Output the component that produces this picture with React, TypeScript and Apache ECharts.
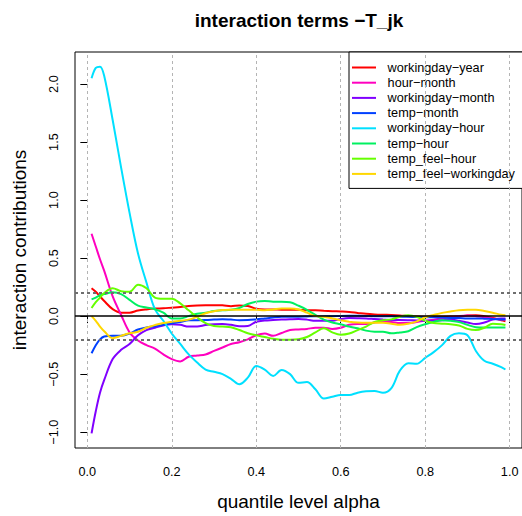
import React, { useEffect, useRef } from "react";
import * as echarts from "echarts";

const FONT = "'Liberation Sans', Arial, Helvetica, sans-serif";

const alpha = [
  0.01, 0.02, 0.03, 0.04, 0.06, 0.08, 0.1, 0.12, 0.14, 0.16, 0.18, 0.2, 0.22, 0.24, 0.26, 0.28, 0.3,
  0.32, 0.34, 0.36, 0.38, 0.4, 0.42, 0.44, 0.46, 0.48, 0.5, 0.52, 0.54, 0.56, 0.58, 0.6, 0.62, 0.64,
  0.66, 0.68, 0.7, 0.72, 0.74, 0.76, 0.78, 0.8, 0.82, 0.84, 0.86, 0.88, 0.9, 0.92, 0.94, 0.96, 0.98, 0.99,
];

const workingdayYear = [
  0.24, 0.21, 0.17, 0.13, 0.06, 0.03, 0.03, 0.048, 0.058, 0.065, 0.068, 0.073, 0.078, 0.087, 0.092, 0.094, 0.094,
  0.093, 0.086, 0.092, 0.088, 0.063, 0.058, 0.058, 0.056, 0.056, 0.054, 0.051, 0.05, 0.046, 0.043, 0.04, 0.036, 0.028,
  0.02, 0.015, 0.012, 0.01, 0.006, 0.0, -0.004, -0.006, -0.006, -0.005, -0.004, -0.003, 0.005, 0.008, 0.0, -0.015, -0.035, -0.045,
];

const hourMonth = [
  0.71, 0.6, 0.49, 0.39, 0.17, 0.01, -0.14, -0.21, -0.25, -0.28, -0.33, -0.37, -0.39, -0.35, -0.34, -0.33, -0.3,
  -0.27, -0.24, -0.225, -0.2, -0.165, -0.15, -0.17, -0.145, -0.12, -0.115, -0.11, -0.1, -0.1, -0.11, -0.1, -0.075, -0.068,
  -0.068, -0.055, -0.048, -0.05, -0.06, -0.06, -0.05, -0.04, -0.03, -0.02, -0.01, 0.0, 0.005, 0.0, -0.01, -0.02, -0.03, -0.03,
];

const workingdayMonth = [
  -1.01, -0.82, -0.66, -0.55, -0.37, -0.29, -0.24, -0.165, -0.12, -0.1, -0.08, -0.07, -0.075, -0.09, -0.09, -0.077, -0.07,
  -0.068, -0.075, -0.088, -0.085, -0.048, -0.038, -0.034, -0.03, -0.027, -0.025, -0.03, -0.04, -0.04, -0.04, -0.025, -0.017, -0.018,
  -0.02, -0.025, -0.03, -0.034, -0.034, -0.035, -0.037, -0.04, -0.04, -0.035, -0.03, -0.04, -0.055, -0.068, -0.055, -0.03, -0.02, -0.02,
];

const tempMonth = [
  -0.32, -0.25, -0.2, -0.175, -0.168, -0.168, -0.15, -0.115, -0.098, -0.088, -0.075, -0.062, -0.05, -0.035, -0.035, -0.034, -0.03,
  -0.026, -0.03, -0.035, -0.034, -0.028, -0.02, -0.012, -0.006, -0.005, -0.005, -0.003, 0.0, 0.0, 0.0, 0.002, 0.003, 0.003,
  0.002, 0.0, 0.0, -0.002, -0.005, -0.006, -0.008, -0.01, -0.01, -0.012, -0.015, -0.017, -0.02, -0.02, -0.022, -0.025, -0.028, -0.03,
];

const workingdayHour = [
  2.05, 2.14, 2.15, 2.07, 1.69, 1.28, 0.89, 0.54, 0.29, 0.06, -0.04, -0.15, -0.24, -0.33, -0.4, -0.46, -0.48,
  -0.5, -0.54, -0.587, -0.53, -0.43, -0.46, -0.515, -0.465, -0.5, -0.575, -0.567, -0.63, -0.71, -0.695, -0.68, -0.68, -0.66,
  -0.648, -0.645, -0.66, -0.62, -0.47, -0.405, -0.41, -0.36, -0.31, -0.25, -0.17, -0.148, -0.165, -0.3, -0.385, -0.41, -0.44, -0.46,
];

const tempHour = [
  0.145, 0.16, 0.18, 0.19, 0.205, 0.19, 0.14, 0.09, 0.075, 0.06, 0.03, -0.02, -0.02, 0.0, 0.02, 0.03, 0.045,
  0.05, 0.055, 0.07, 0.105, 0.125, 0.13, 0.125, 0.125, 0.12, 0.09, 0.055, 0.01, -0.03, -0.055, -0.07, -0.09, -0.105,
  -0.125, -0.134, -0.134, -0.148, -0.14, -0.13, -0.095, -0.07, -0.05, -0.035, -0.04, -0.05, -0.075, -0.095, -0.097, -0.097, -0.097, -0.097,
];

const tempFeelHour = [
  0.07, 0.12, 0.16, 0.2, 0.24, 0.215, 0.21, 0.27, 0.24, 0.16, 0.15, 0.15, 0.11, 0.05, -0.01, -0.06, -0.085,
  -0.09, -0.095, -0.12, -0.148, -0.165, -0.18, -0.195, -0.204, -0.204, -0.2, -0.18, -0.14, -0.105, -0.14, -0.16, -0.15, -0.12,
  -0.09, -0.05, -0.035, -0.028, -0.005, 0.008, -0.006, -0.04, -0.06, -0.065, -0.07, -0.08, -0.11, -0.12, -0.1, -0.065, -0.07, -0.077,
];

const tempFeelWorkingday = [
  0.0, -0.04, -0.09, -0.13, -0.19, -0.17, -0.148, -0.135, -0.1, -0.077, -0.06, -0.048, -0.04, -0.03, -0.005, 0.025, 0.042,
  0.052, 0.055, 0.056, 0.056, 0.054, 0.051, 0.058, 0.065, 0.065, 0.058, 0.03, 0.0, -0.005, -0.02, -0.035, -0.048, -0.055,
  -0.057, -0.057, -0.058, -0.065, -0.075, -0.065, -0.045, -0.01, 0.01, 0.028, 0.04, 0.05, 0.055, 0.056, 0.045, 0.03, 0.012, 0.008,
];

const seriesNames = [
  "workingday\u2212year",
  "hour\u2212month",
  "workingday\u2212month",
  "temp\u2212month",
  "workingday\u2212hour",
  "temp\u2212hour",
  "temp_feel\u2212hour",
  "temp_feel\u2212workingday",
];
const seriesValues = [
  workingdayYear,
  hourMonth,
  workingdayMonth,
  tempMonth,
  workingdayHour,
  tempHour,
  tempFeelHour,
  tempFeelWorkingday,
];
const seriesColors = ["#FF0000", "#FF00BF", "#8000FF", "#0040FF", "#00E0FF", "#00F060", "#66FF00", "#FFD700"];

const xTicks = [0, 0.2, 0.4, 0.6, 0.8, 1.0];
const yTicks = [-1, -0.5, 0, 0.5, 1, 1.5, 2];
const refLines = [-0.2, 0.2];

function fmt(v: number): string {
  const s = Math.abs(v).toFixed(1);
  return v < 0 ? "\u2212" + s : s;
}

export default function App() {
  const ref = useRef<HTMLDivElement>(null);
  useEffect(() => {
    if (!ref.current) return;
    const chart = echarts.init(ref.current, null, { renderer: "svg" });

    const allY = seriesValues.flat();
    const yMinD = Math.min(...allY);
    const yMaxD = Math.max(...allY);
    const xMinD = Math.min(...alpha);
    const xMaxD = Math.max(...alpha);
    const xPad = 0.04 * (xMaxD - xMinD);
    const yPad = 0.04 * (yMaxD - yMinD);

    const lineSeries = seriesNames.map((name, k) => ({
      name,
      type: "line",
      data: alpha.map((a, i) => [a, seriesValues[k][i]]),
      symbol: "none",
      showSymbol: false,
      smooth: 0.35,
      lineStyle: { color: seriesColors[k], width: 2 },
      itemStyle: { color: seriesColors[k] },
      z: 3,
    }));

    const option: any = {
      animation: false,
      backgroundColor: "#fff",
      title: {
        text: "interaction terms \u2212T_jk",
        left: 299,
        top: 11,
        padding: 0,
        textAlign: "center",
        textStyle: { fontFamily: FONT, fontSize: 19, fontWeight: "bold", color: "#000" },
      },
      grid: {
        left: 75,
        top: 52,
        width: 448,
        height: 401,
        show: true,
        borderColor: "#000",
        borderWidth: 1,
        backgroundColor: "transparent",
        containLabel: false,
      },
      legend: {
        data: seriesNames,
        orient: "vertical",
        left: 349,
        top: 52,
        icon: "path://M0,0H24V2H0Z",
        itemWidth: 24,
        itemHeight: 14,
        itemGap: 2.2,
        padding: [9, 14, 8, 3],
        borderColor: "#000",
        borderWidth: 1,
        borderRadius: 0,
        backgroundColor: "#fff",
        selectedMode: false,
        itemStyle: { borderWidth: 0 },
        textStyle: { fontFamily: FONT, fontSize: 12.7, color: "#000", padding: [0, 0, 0, 6.6] },
      },
      xAxis: {
        type: "value",
        min: xMinD - xPad,
        max: xMaxD + xPad,
        name: "quantile level alpha",
        nameLocation: "middle",
        nameGap: 44,
        nameTextStyle: { fontFamily: FONT, fontSize: 19, color: "#000" },
        axisLine: { show: false },
        splitLine: { show: false },
        axisTick: { show: true, length: 7, customValues: xTicks, lineStyle: { color: "#000", width: 1 } },
        axisLabel: {
          customValues: xTicks,
          margin: 17,
          fontFamily: FONT,
          fontSize: 12.7,
          color: "#000",
          formatter: (v: number) => fmt(v),
        },
      },
      yAxis: {
        type: "value",
        min: yMinD - yPad,
        max: yMaxD + yPad,
        name: "interaction contributions",
        nameLocation: "middle",
        nameGap: 46,
        nameRotate: 90,
        nameTextStyle: { fontFamily: FONT, fontSize: 19, color: "#000" },
        axisLine: { show: false },
        splitLine: { show: false },
        axisTick: { show: true, length: 7, customValues: yTicks, lineStyle: { color: "#000", width: 1 } },
        axisLabel: {
          customValues: yTicks,
          rotate: 90,
          margin: 15,
          fontFamily: FONT,
          fontSize: 12.7,
          color: "#000",
          formatter: (v: number) => fmt(v),
        },
      },
      series: [
        {
          name: "grid-v",
          type: "line",
          data: [],
          z: 1,
          markLine: {
            silent: true,
            symbol: "none",
            label: { show: false },
            lineStyle: { color: "#B4B4B4", width: 1, type: [3, 3] },
            data: xTicks.map((v) => ({ xAxis: v })),
          },
        },
        ...lineSeries,
        {
          name: "ref-lines",
          type: "line",
          data: [],
          z: 5,
          markLine: {
            silent: true,
            symbol: "none",
            label: { show: false },
            data: [
              ...refLines.map((v) => ({ yAxis: v, lineStyle: { color: "#6E6E6E", width: 2, type: [3, 3] } })),
              { yAxis: 0, lineStyle: { color: "#000", width: 1.5, type: "solid" } },
            ],
          },
        },
      ],
    };
    chart.setOption(option);
    return () => chart.dispose();
  }, []);
  return <div ref={ref} style={{ position: "fixed", left: 0, top: 0, width: 522, height: 516 }} />;
}
